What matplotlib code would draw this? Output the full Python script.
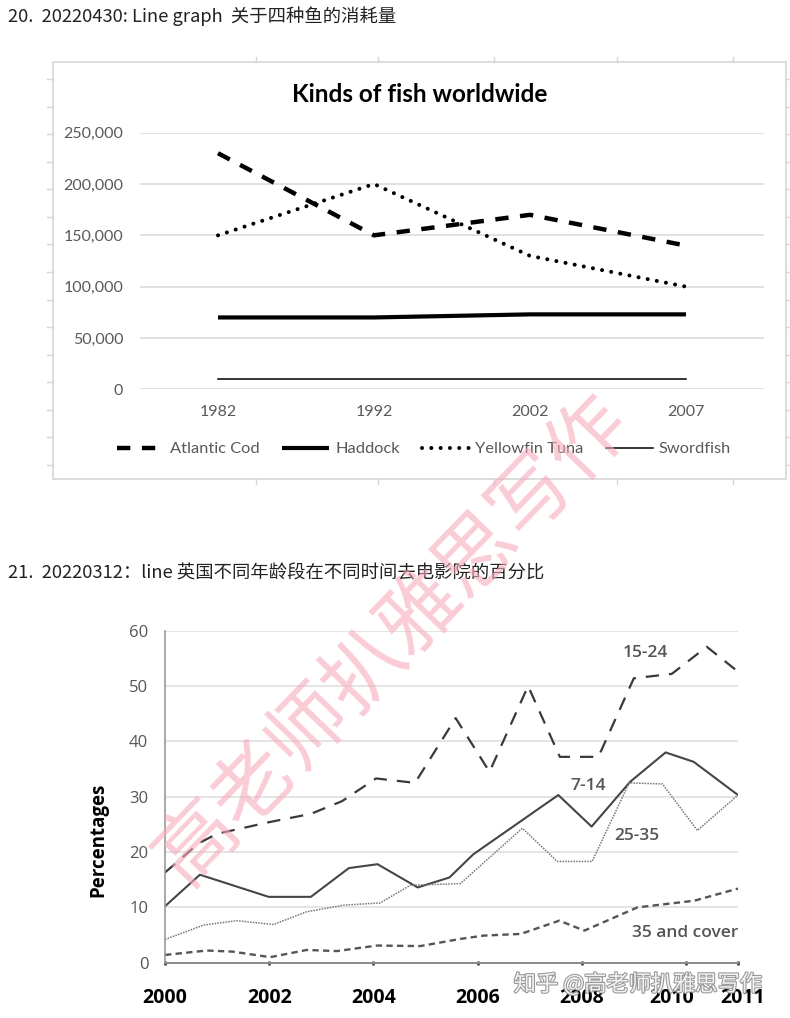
import matplotlib.pyplot as plt
from matplotlib.patches import Rectangle
import matplotlib.patheffects as pe
import matplotlib.transforms as mtransforms
from matplotlib.ticker import FuncFormatter

# ---------------------------------------------------------
# Data: chart 20 (fish consumption)
# ---------------------------------------------------------
fish_years = ['1982', '1992', '2002', '2007']
atlantic_cod = [230000, 150000, 170000, 140000]
haddock = [70000, 70000, 73000, 73000]
yellowfin_tuna = [150000, 200000, 130000, 100000]
swordfish = [10000, 10000, 10000, 10000]
fish_yticks = [0, 50000, 100000, 150000, 200000, 250000]

# ---------------------------------------------------------
# Data: chart 21 (cinema attendance by age group, %)
# ---------------------------------------------------------
age_15_24_x = [2000, 2000.65, 2001.0, 2002.0, 2002.8, 2003.4, 2004.05, 2004.8, 2005.58,
               2006.23, 2006.97, 2007.58, 2008.32, 2009.0, 2009.73, 2010.4, 2011]
age_15_24_y = [16.3, 21.6, 23.3, 25.4, 26.9, 29.2, 33.3, 32.5, 44.2,
               34.5, 50.0, 37.2, 37.2, 51.4, 52.2, 57.1, 52.6]

age_7_14_x = [2000, 2000.67, 2001.99, 2002.8, 2003.53, 2004.08, 2004.85, 2005.46, 2005.92,
              2007.55, 2008.19, 2008.93, 2009.61, 2010.15, 2011]
age_7_14_y = [10.2, 15.9, 11.9, 11.9, 17.1, 17.8, 13.6, 15.4, 19.6,
              30.3, 24.6, 32.7, 38.0, 36.3, 30.3]

age_25_35_x = [2000, 2000.74, 2001.38, 2002.08, 2002.72, 2003.43, 2004.13, 2004.71, 2005.67,
               2006.86, 2007.53, 2008.2, 2008.91, 2009.55, 2010.22, 2011]
age_25_35_y = [4.2, 6.8, 7.6, 6.9, 9.2, 10.4, 10.8, 14.0, 14.3,
               24.3, 18.3, 18.3, 32.5, 32.3, 23.9, 30.3]

age_35_over_x = [2000, 2000.8, 2001.3, 2002.02, 2002.72, 2003.3, 2004.07, 2004.9, 2005.67,
                 2006.12, 2006.83, 2007.57, 2008.05, 2009.07, 2010.16, 2011]
age_35_over_y = [1.4, 2.2, 2.0, 1.0, 2.3, 2.1, 3.1, 3.0, 4.3,
                 4.9, 5.2, 7.6, 5.8, 10.0, 11.2, 13.4]

cinema_xticks = [2000, 2002, 2004, 2006, 2008, 2010, 2011]
cinema_yticks = [0, 10, 20, 30, 40, 50, 60]

W, H = 790, 1018
CJK = ['Noto Sans CJK SC', 'DejaVu Sans']


def axes_px(fig, left, top, right, bottom, **kw):
    # place an axes by pixel box (origin top-left)
    return fig.add_axes([left / W, 1 - bottom / H, (right - left) / W, (bottom - top) / H], **kw)


fig = plt.figure(figsize=(W / 100, H / 100), dpi=100)
fig.patch.set_facecolor('white')

# background layer in pixel coordinates (sheet frame, small cell ticks)
bg = fig.add_axes([0, 0, 1, 1], zorder=-5)
bg.set_xlim(0, W)
bg.set_ylim(H, 0)
bg.axis('off')
bg.add_patch(Rectangle((53.3, 62.3), 786 - 53.3, 479 - 62.3, fill=False,
                       edgecolor='#d6d6d6', linewidth=1.2))
for xt in [256, 378, 494, 617, 733]:
    bg.plot([xt, xt], [57, 62.3], color='#d6d6d6', lw=1)
    bg.plot([xt, xt], [479, 484], color='#d6d6d6', lw=1)
for k in range(15):
    yt = 79 + 27.57 * k
    bg.plot([47, 53.3], [yt, yt], color='#d6d6d6', lw=1)
    bg.plot([786, 790], [yt, yt], color='#d6d6d6', lw=1)

# headings
fig.text(8 / W, 1 - 16 / H, '20.  20220430: Line graph  关于四种鱼的消耗量',
         family=CJK, fontsize=13.2, color='#222222', ha='left', va='center')
fig.text(8 / W, 1 - 573 / H, '21.  20220312：line 英国不同年龄段在不同时间去电影院的百分比',
         family=CJK, fontsize=13.2, color='#222222', ha='left', va='center')

# ---------------------------------------------------------
# Chart 1
# ---------------------------------------------------------
ax1 = axes_px(fig, 140, 132.7, 764, 389.3)
xs = list(range(len(fish_years)))
l_cod, = ax1.plot(xs, atlantic_cod, color='black', lw=3.2, dashes=(3, 2.6),
                  dash_capstyle='butt', label='Atlantic Cod')
l_had, = ax1.plot(xs, haddock, color='black', lw=3.0, solid_capstyle='butt', label='Haddock')
l_tun, = ax1.plot(xs, yellowfin_tuna, color='black', lw=2.9, dashes=(0.01, 2.3),
                  dash_capstyle='round', label='Yellowfin Tuna')
l_swd, = ax1.plot(xs, swordfish, color='black', lw=1.1, label='Swordfish')
ax1.set_xlim(-0.5, 3.5)
ax1.set_ylim(0, 250000)
ax1.set_yticks(fish_yticks)
ax1.yaxis.set_major_formatter(FuncFormatter(lambda v, p: f'{int(v):,}'))
ax1.set_xticks(xs)
ax1.set_xticklabels(fish_years)
for s in ax1.spines.values():
    s.set_visible(False)
ax1.yaxis.grid(True, color='#d9d9d9', lw=1.1)
ax1.set_axisbelow(True)
ax1.tick_params(length=0, labelsize=11.5, labelcolor='#595959')
ax1.tick_params(axis='y', pad=12)
ax1.tick_params(axis='x', pad=11)
for t in ax1.get_xticklabels() + ax1.get_yticklabels():
    t.set_family('Lato')
ax1.set_facecolor('none')
fig.text(420 / W, 1 - 94 / H, 'Kinds of fish worldwide', family='Lato', fontweight='bold',
         fontsize=17.5, ha='center', va='center', color='black')
ax1.legend(handles=[l_cod, l_had, l_tun, l_swd], loc='center',
           bbox_to_anchor=(424 / W, 1 - 449 / H), bbox_transform=fig.transFigure,
           ncol=4, frameon=False, handlelength=2.9, handletextpad=0.35,
           columnspacing=1.35, prop={'family': 'Lato', 'size': 11.8}, labelcolor='#595959')

# ---------------------------------------------------------
# Chart 2
# ---------------------------------------------------------
ax2 = axes_px(fig, 165, 630.7, 738, 962.7)
ax2.plot(age_15_24_x, age_15_24_y, color='#3a3a3a', lw=1.6, dashes=(6, 4.5))
ax2.plot(age_7_14_x, age_7_14_y, color='#454545', lw=1.5)
ax2.plot(age_25_35_x, age_25_35_y, color='#777777', lw=1.1, dashes=(1, 0.8))
ax2.plot(age_35_over_x, age_35_over_y, color='#555555', lw=1.7, dashes=(2.7, 1.8))
ax2.set_xlim(2000, 2011)
ax2.set_ylim(0, 60)
ax2.set_yticks(cinema_yticks)
ax2.set_xticks(cinema_xticks)
ax2.set_xticklabels([str(y) for y in cinema_xticks])
ax2.yaxis.grid(True, color='#dddddd', lw=1.1)
ax2.set_axisbelow(True)
for side in ['top', 'right']:
    ax2.spines[side].set_visible(False)
ax2.spines['left'].set_color('#9a9a9a')
ax2.spines['left'].set_linewidth(1.2)
ax2.spines['bottom'].set_color('#8a8a8a')
ax2.spines['bottom'].set_linewidth(1.4)
ax2.tick_params(axis='y', length=0, pad=12, labelsize=12, labelcolor='#555555')
ax2.tick_params(axis='x', length=3, width=2, color='#444444', direction='inout',
                pad=17, labelsize=14, labelcolor='black')
for t in ax2.get_yticklabels():
    t.set_family('Open Sans')
xlabels = ax2.get_xticklabels()
for t in xlabels:
    t.set_family('Open Sans')
    t.set_fontweight('bold')
# the last two year labels sit slightly apart, as in the source chart
for t, dx in [(xlabels[-2], -14), (xlabels[-1], 5)]:
    t.set_transform(t.get_transform() + mtransforms.ScaledTranslation(dx / 100, 0, fig.dpi_scale_trans))
ax2.set_facecolor('none')
fig.text(98 / W, 1 - 840 / H, 'Percentages', family='Open Sans', fontweight='bold',
         fontsize=13.5, rotation=90, ha='center', va='center', color='black')

label_style = dict(family='Open Sans', fontsize=12.5, color='#555555', fontweight='semibold',
                   ha='center', va='center')
fig.text(645 / W, 1 - 653 / H, '15-24', **label_style)
fig.text(588 / W, 1 - 786 / H, '7-14', **label_style)
fig.text(637 / W, 1 - 836 / H, '25-35', **label_style)
fig.text(685 / W, 1 - 933 / H, '35 and cover', **label_style)

# watermarks
fig.text(392 / W, 1 - 640 / H, '高老师扒雅思写作', family=CJK, fontsize=58,
         fontweight='light', color='#f6aabb', alpha=0.6, rotation=46,
         ha='center', va='center', zorder=10)
fig.text(638 / W, 1 - 984 / H, '知乎 @高老师扒雅思写作', family=CJK, fontsize=16,
         color='#f2f2f2', ha='center', va='center', zorder=11,
         path_effects=[pe.withStroke(linewidth=1.6, foreground='#9a9a9a')])

plt.savefig('out.png', dpi=100, facecolor='white')
